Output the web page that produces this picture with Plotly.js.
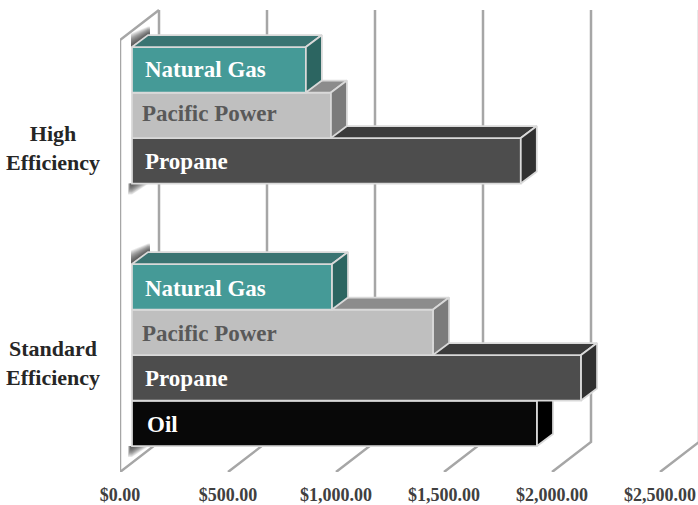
<!DOCTYPE html>
<html><head><meta charset="utf-8">
<script src="https://cdn.plot.ly/plotly-3.0.1.min.js"></script>
<style>html,body{margin:0;padding:0;background:#fff}</style>
</head><body><div id="chart" style="width:698px;height:505px"></div>
<script>
// ---- data ----
const categories = ["Standard Efficiency", "High Efficiency"];
const categoryLabels = ["Standard<br>Efficiency", "High<br>Efficiency"];
const seriesNames = ["Oil", "Propane", "Pacific Power", "Natural Gas"];
const oil = [1875, null];
const propane = [2079, 1800];
const pacificPower = [1394, 921];
const naturalGas = [926, 805];
const tickValues = [0, 500, 1000, 1500, 2000, 2500];
const tickLabels = ["$0.00", "$500.00", "$1,000.00", "$1,500.00", "$2,000.00", "$2,500.00"];

// ---- styles ----
const seriesValues = [oil, propane, pacificPower, naturalGas];
const frontColors = ["#080808", "#4d4d4d", "#bfbfbf", "#459a97"];
const topColors = ["#1a1a1a", "#3b3b3b", "#8c8c8c", "#3a7472"];
const sideColors = ["#000000", "#303030", "#7b7b7b", "#2c6561"];
const textColors = ["#ffffff", "#ffffff", "#595959", "#ffffff"];
const labelInset = [60, 49, 37, 49];
const labelNudge = [[1, 1, 1, 2], [0, 1, -2, 0]]; // px, per category / series
const edge = "#d9d9d9", wall = "#a6a6a6";
const serif = "'Liberation Serif', serif";

// ---- scales: pixels per dollar / per category, 3-D depth in axis units ----
const pxX = 0.216, pxY = 217;
const plotL = 120, plotW = 578, plotH = 472;
const xMax = plotW / pxX;
const yFloor = -0.4977, yTop = yFloor + plotH / pxY;
const wallDX = 39 / pxX, wallDY = 30 / pxY, wallTop = 1.631;
const barShiftX = 12 / pxX, barShiftY = 9 / pxY;
const barDX = 16 / pxX, barDY = 12 / pxY;
const barH = 45.5 / pxY;

const traces = [];
// walls and floor
const gx = [], gy = [];
tickValues.forEach(t => {
  gx.push(t, t + wallDX, t + wallDX, null);
  gy.push(yFloor, yFloor + wallDY, wallTop, null);
});
gx.push(0, 0, wallDX);
gy.push(yFloor, wallTop - wallDY, wallTop);
traces.push({type: "scatter", mode: "lines", x: gx, y: gy, xaxis: "x", yaxis: "y",
  line: {color: wall, width: 2.5}, hoverinfo: "skip", showlegend: false});

// soft shadow behind each bar group
const shade = (x, y, a) => traces.push({type: "scatter", mode: "lines", fill: "toself", hoverinfo: "skip",
  showlegend: false, xaxis: "x", yaxis: "y", line: {width: 0}, fillcolor: "rgba(50,50,50," + a + ")", x, y});
categories.forEach((c, ci) => {
  const lowEdge = ci + barShiftY - 2 * barH + ci * barH;
  const highEdge = ci + barShiftY + 2 * barH;
  const L = barShiftX, onePxX = 1 / pxX, onePxY = 1 / pxY;
  for (let k = 1; k <= 14; k++) {
    const s = k * 0.6;
    shade([L - onePxX, L + barDX, L + barDX + 2 * onePxX, L + barDX + 2 * onePxX, L + barDX, L - onePxX],
      [highEdge, highEdge + barDY, highEdge + barDY, highEdge + barDY + s * onePxY, highEdge + barDY + s * onePxY, highEdge + s * 1.6 * onePxY],
      0.1);
    shade([L - (1 + s * 0.35) * onePxX, L + s * 2 * onePxX, L, L - (1 + s * 0.35) * onePxX],
      [lowEdge, lowEdge, lowEdge - s * 1.3 * onePxY, lowEdge - s * 1.3 * onePxY], 0.1);
  }
});

const annotations = [];
// one overlaid subplot per series, painted bottom bar first
seriesNames.forEach((name, i) => {
  const id = i + 2;
  const offset = -2 * barH + i * barH;
  const vals = seriesValues[i];
  const ys = categories.map((c, k) => k);
  traces.push({type: "bar", orientation: "h", name, x: vals, y: ys, width: barH, offset,
    xaxis: "x" + id, yaxis: "y" + id, marker: {color: frontColors[i], line: {color: edge, width: 1.75}},
    customdata: categories, hovertemplate: "%{customdata}<br>" + name + ": $%{x:,.2f}<extra></extra>", showlegend: false});
  const tx = [], ty = [], sx = [], sy = [];
  vals.forEach((v, k) => {
    if (v === null) return;
    const lo = k + offset, hi = lo + barH;
    tx.push(0, barDX, v + barDX, v, 0, null);
    ty.push(hi, hi + barDY, hi + barDY, hi, hi, null);
    sx.push(v, v + barDX, v + barDX, v, v, null);
    sy.push(lo, lo + barDY, hi + barDY, hi, lo, null);
    annotations.push({xref: "x" + id, yref: "y" + id, x: labelInset[i],
      y: k + offset + barH / 2 - labelNudge[k][i] / pxY,
      text: name, showarrow: false, xanchor: "left", yanchor: "middle",
      font: {family: serif, size: 23, color: textColors[i], weight: 700}});
  });
  traces.push({type: "scatter", mode: "lines", x: tx, y: ty, fill: "toself", fillcolor: topColors[i],
    xaxis: "x" + id, yaxis: "y" + id, line: {color: edge, width: 1.75}, hoverinfo: "skip", showlegend: false});
  traces.push({type: "scatter", mode: "lines", x: sx, y: sy, fill: "toself", fillcolor: sideColors[i],
    xaxis: "x" + id, yaxis: "y" + id, line: {color: edge, width: 1.75}, hoverinfo: "skip", showlegend: false});
});

categories.forEach((c, k) => {
  annotations.push({xref: "paper", yref: "y", x: (53 - plotL) / plotW, y: k === 1 ? k - 1 / pxY : k + 1 / pxY, text: categoryLabels[k],
    showarrow: false, xanchor: "center", yanchor: "middle", align: "center",
    font: {family: serif, size: 22, color: "#262626", weight: 700}});
});

const layout = {
  width: 698, height: 505, showlegend: false, barmode: "overlay",
  paper_bgcolor: "#ffffff", plot_bgcolor: "rgba(0,0,0,0)",
  margin: {l: plotL, r: 0, t: 0, b: 33, pad: 0},
  xaxis: {range: [0, xMax], tickmode: "array", tickvals: tickValues, ticktext: tickLabels,
    showgrid: false, zeroline: false, showline: false, ticks: "outside", ticklen: 6, tickcolor: "rgba(0,0,0,0)",
    tickangle: 0, tickfont: {family: serif, size: 18, color: "#404040", weight: 700}, fixedrange: true},
  yaxis: {range: [yFloor, yTop], showgrid: false, zeroline: false, showline: false, showticklabels: false,
    ticks: "", fixedrange: true},
  annotations
};
seriesNames.forEach((n, i) => {
  const id = i + 2;
  layout["xaxis" + id] = {overlaying: "x", anchor: "y" + id, visible: false, fixedrange: true,
    range: [-barShiftX, xMax - barShiftX]};
  layout["yaxis" + id] = {overlaying: "y", anchor: "x" + id, visible: false, fixedrange: true,
    range: [yFloor - barShiftY, yTop - barShiftY]};
});
Plotly.newPlot("chart", traces, layout, {displayModeBar: false, responsive: false});
</script></body></html>
